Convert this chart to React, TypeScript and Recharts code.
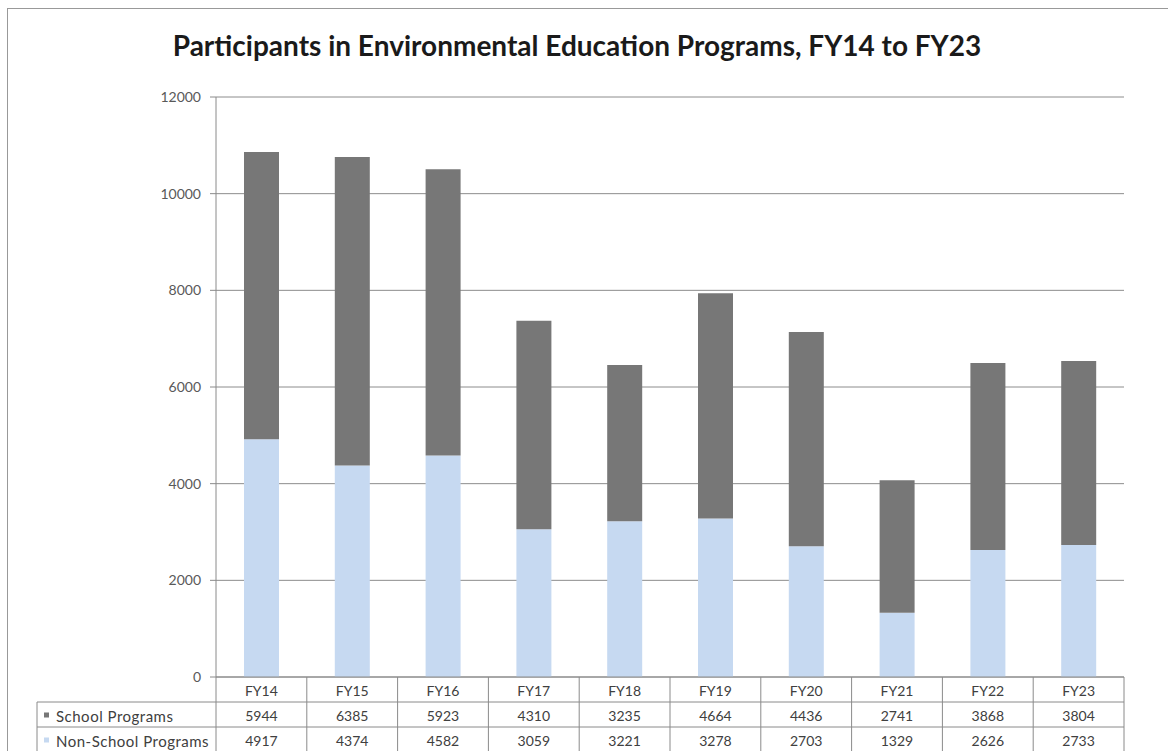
import React from 'react'
import { BarChart, Bar, XAxis, YAxis, CartesianGrid } from 'recharts'

const categories = ['FY14', 'FY15', 'FY16', 'FY17', 'FY18', 'FY19', 'FY20', 'FY21', 'FY22', 'FY23']
const schoolPrograms = [5944, 6385, 5923, 4310, 3235, 4664, 4436, 2741, 3868, 3804]
const nonSchoolPrograms = [4917, 4374, 4582, 3059, 3221, 3278, 2703, 1329, 2626, 2733]
const yTicks = [0, 2000, 4000, 6000, 8000, 10000, 12000]

const series = [
  { key: 'nonSchool', name: 'Non-School Programs', color: '#c6d9f1', values: nonSchoolPrograms },
  { key: 'school', name: 'School Programs', color: '#777777', values: schoolPrograms },
]
// table rows are listed top to bottom
const tableRows = [series[1], series[0]]

const data = categories.map((c, i) => ({
  name: c,
  school: schoolPrograms[i],
  nonSchool: nonSchoolPrograms[i],
}))

const W = 1160
const H = 743
const MARGIN = { top: 88, right: 44, left: 0, bottom: 0 }
const Y_WIDTH = 208
const PLOT_W = W - MARGIN.right - Y_WIDTH
const ROW_H = 25
const TABLE_LEFT = 29
const LINE = '#8a8a8a'
const TEXT = '#404040'
const FONT = 'Lato, "Liberation Sans", sans-serif'

function TableTick(props: any) {
  const { x, y, payload } = props
  const i = payload.index
  const half = payload.offset || PLOT_W / categories.length / 2
  const left = x - half
  const right = x + half
  const bottom = y + ROW_H * 3

  return (
    <g>
      <line x1={right} y1={y} x2={right} y2={bottom} stroke={LINE} />
      <line x1={left} y1={y + ROW_H} x2={right} y2={y + ROW_H} stroke={LINE} />
      <line x1={left} y1={y + ROW_H * 2} x2={right} y2={y + ROW_H * 2} stroke={LINE} />
      <text x={x} y={y + ROW_H / 2 + 1} textAnchor="middle" dominantBaseline="central" fontSize={14} fill={TEXT}>
        {payload.value}
      </text>
      {tableRows.map((r, k) => (
        <text
          key={r.key}
          x={x}
          y={y + ROW_H * (k + 1.5) + 1}
          textAnchor="middle"
          dominantBaseline="central"
          fontSize={14}
          fill={TEXT}
        >
          {r.values[i]}
        </text>
      ))}
      {i === 0 && (
        <g>
          <line x1={left} y1={y} x2={left} y2={bottom} stroke={LINE} />
          <line x1={TABLE_LEFT} y1={y + ROW_H} x2={left} y2={y + ROW_H} stroke={LINE} />
          <line x1={TABLE_LEFT} y1={y + ROW_H * 2} x2={left} y2={y + ROW_H * 2} stroke={LINE} />
          <line x1={TABLE_LEFT} y1={y + ROW_H} x2={TABLE_LEFT} y2={bottom} stroke={LINE} />
          {tableRows.map((r, k) => (
            <g key={r.key}>
              <rect x={TABLE_LEFT + 7} y={y + ROW_H * (k + 1.5) - 2} width={5} height={5} fill={r.color} />
              <text
                x={TABLE_LEFT + 19}
                y={y + ROW_H * (k + 1.5) + 1}
                dominantBaseline="central"
                fontSize={15}
                letterSpacing={0.5}
                fill={TEXT}
              >
                {r.name}
              </text>
            </g>
          ))}
        </g>
      )}
    </g>
  )
}

export default function App() {
  return (
    <div
      style={{
        position: 'fixed',
        left: 7,
        top: 8,
        width: W,
        height: H + 1,
        borderLeft: '1px solid #999',
        borderTop: '1px solid #999',
        background: '#fff',
        fontFamily: FONT,
      }}
    >
      <div
        style={{
          position: 'absolute',
          left: 0,
          top: 19,
          width: W - 22,
          textAlign: 'center',
          fontSize: 28,
          fontWeight: 700,
          color: '#1a1a1a',
          lineHeight: '34px',
        }}
      >
        Participants in Environmental Education Programs, FY14 to FY23
      </div>
      <div style={{ position: 'absolute', left: 0, top: 0 }}>
        <BarChart width={W} height={H} data={data} margin={MARGIN}>
          <CartesianGrid vertical={false} stroke="#8c8c8c" />
          <XAxis
            dataKey="name"
            height={H - 668}
            axisLine={{ stroke: LINE }}
            tickLine={false}
            tickSize={0}
            tickMargin={0}
            interval={0}
            tick={(p: any) => <TableTick {...p} />}
          />
          <YAxis
            width={Y_WIDTH}
            domain={[0, 12000]}
            ticks={yTicks}
            interval={0}
            tickSize={6}
            tickMargin={9}
            axisLine={{ stroke: LINE }}
            tickLine={{ stroke: LINE }}
            tick={{ fontSize: 14, fill: '#595959' }}
          />
          {series.map((s) => (
            <Bar key={s.key} dataKey={s.key} name={s.name} stackId="a" fill={s.color} barSize={35} isAnimationActive={false} />
          ))}
        </BarChart>
      </div>
    </div>
  )
}
